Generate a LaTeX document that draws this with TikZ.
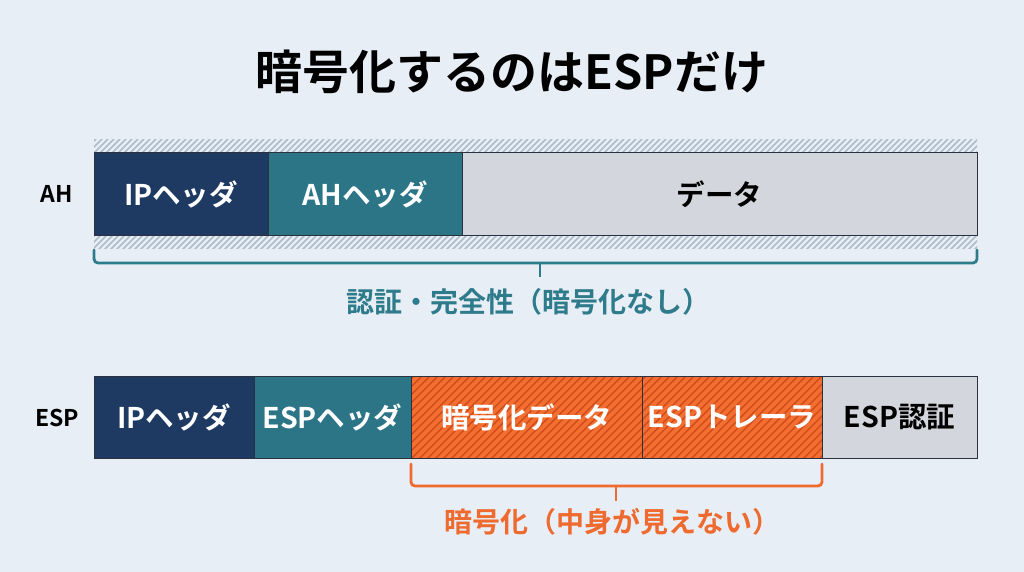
\documentclass[tikz,border=0pt]{standalone}
\usepackage{fontspec}
\setmainfont{Noto Sans CJK JP}[BoldFont={Noto Sans CJK JP Bold}]
\definecolor{bg}{HTML}{E8EEF5}
\definecolor{navy}{HTML}{1E3A62}
\definecolor{teal}{HTML}{2B7587}
\definecolor{lgray}{HTML}{D4D6DD}
\definecolor{orng}{HTML}{F46E30}
\definecolor{orngd}{HTML}{C9491A}
\definecolor{hatch}{HTML}{ADBCC9}
\definecolor{edge}{HTML}{2A3240}
\definecolor{braceteal}{HTML}{2E7B8B}
\definecolor{braceor}{HTML}{EE6A2F}
\begin{document}
\begin{tikzpicture}[x=1pt,y=-1pt,
  cell/.style={draw=edge, line width=1pt, inner sep=0pt, outer sep=0pt, minimum height=82pt, font=\bfseries\fontsize{28.5}{28.5}\selectfont},
  darkcell/.style={cell, fill=navy, text=white},
  tealcell/.style={cell, fill=teal, text=white},
  graycell/.style={cell, fill=lgray, text=black},
  orcell/.style={cell, fill=orng, text=white},
  rowlabel/.style={font=\bfseries\fontsize{23}{23}\selectfont, text=black},
  bracepath/.style={line width=2.8pt, rounded corners=4pt, line cap=round},
  bracelabel/.style={font=\bfseries\fontsize{28}{28}\selectfont}]
\fill[bg] (0,0) rectangle (1024,572);
\useasboundingbox (0,0) rectangle (1024,572);
% title
\node[font=\bfseries\fontsize{47}{47}\selectfont] (title) at (512,72) {暗号化するのはESPだけ};
% hatched strips around AH row
\begin{scope}
  \clip (94,140) rectangle (977,153);
  \foreach \i in {80,86,...,990} \draw[hatch, line width=1.7pt] (\i,155) -- ++(16,-16);
\end{scope}
\begin{scope}
  \clip (94,235) rectangle (977,248);
  \foreach \i in {80,86,...,990} \draw[hatch, line width=1.7pt] (\i,250) -- ++(16,-16);
\end{scope}
% AH row
\node[rowlabel] (ahlbl) at (57,194) {AH};
\node[darkcell, minimum width=174pt] (ahip) at (181,194) {IPヘッダ};
\node[tealcell, minimum width=194pt] (ahh) at (365,194) {AHヘッダ};
\node[graycell, minimum width=515pt] (ahdata) at (719.5,194) {データ};
% AH brace
\coordinate (ahb1) at (94,250);
\coordinate (ahb2) at (977,250);
\draw[braceteal, bracepath] (ahb1) -- (94,263) -- (977,263) -- (ahb2);
\draw[braceteal, line width=2.8pt] (540,263) -- (540,277);
\node[bracelabel, text=braceteal] (ahtext) at (528,302) {認証・完全性（暗号化なし）};
% ESP row
\node[rowlabel] (esplbl) at (57,418) {ESP};
\node[darkcell, minimum width=160pt] (espip) at (174,417) {IPヘッダ};
\node[tealcell, minimum width=157pt] (esph) at (332.5,417) {ESPヘッダ};
\node[orcell, minimum width=231pt] (espdata) at (526.5,417) {};
\node[orcell, minimum width=180pt] (esptr) at (732,417) {};
\begin{scope}
  \clip (411,376) rectangle (822,458);
  \foreach \i in {330,338,...,830} \draw[orngd, line width=1.2pt] (\i,460) -- ++(86,-86);
\end{scope}
\draw[edge, line width=1pt] (411,376) rectangle (822,458);
\draw[edge, line width=1pt] (642,376) -- (642,458);
\node[font=\bfseries\fontsize{28.5}{28.5}\selectfont, text=white] at (espdata) {暗号化データ};
\node[font=\bfseries\fontsize{28.5}{28.5}\selectfont, text=white] at (esptr) {ESPトレーラ};
\node[graycell, minimum width=155pt] (espauth) at (899.5,417) {ESP認証};
% ESP brace
\coordinate (espb1) at (411,464);
\coordinate (espb2) at (822,464);
\draw[braceor, bracepath] (espb1) -- (411,486) -- (822,486) -- (espb2);
\draw[braceor, line width=2.8pt] (616,486) -- (616,501);
\node[bracelabel, text=braceor] (esptext) at (612,522) {暗号化（中身が見えない）};
\end{tikzpicture}
\end{document}
